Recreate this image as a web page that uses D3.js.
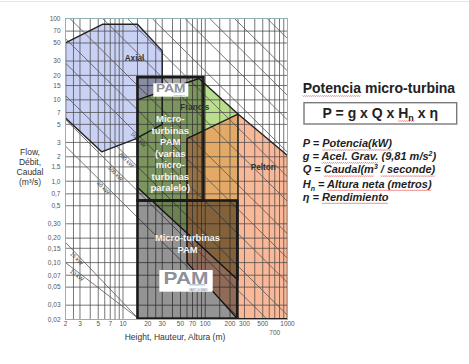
<!DOCTYPE html>
<html><head><meta charset="utf-8">
<script src="https://cdn.jsdelivr.net/npm/d3@7"></script>
<style>
body{margin:0;background:#fff}
svg{display:block}
text{font-family:"Liberation Sans",Arial,sans-serif}
</style>
</head><body>
<svg id="c" width="469" height="364"></svg>
<script>
// ---------- data ----------
const xTicks=[2,3,5,7,10,20,30,50,70,100,200,300,500,700,1000];
const xTickLabels=["2","3","5","7","10","20","30","50","70","100","200","300","500","700","1000"];
const yTicks=[0.02,0.03,0.05,0.07,0.1,0.15,0.2,0.3,0.5,0.7,1,1.5,2,3,5,7,10,15,20,30,50,70,100];
const yTickLabels=["0,02","0,03","0,05","0,07","0,10","0,15","0,20","0,30","0,5","0,7","1,0","1,5","2","3","5","7","10","15","20","30","50","70","100"];
const xGrid=[2,2.5,3,4,5,6,7,8,9,10,15,20,25,30,40,50,60,70,80,90,100,150,200,250,300,400,500,600,700,800,900,1000];
const yGrid=yTicks;
// regions: [Height m, Flow m3/s]
const axial=[[2,50],[5.7,85],[15,85],[30,40],[30,5],[14,3.3],[5.5,2.3],[2,6]];
const francis=[[15,10],[84,18.3],[250,6.7],[250,0.061],[15,0.84]];
const pelton=[[60,3.33],[250,6.7],[1000,2.07],[1000,0.0205],[245,0.0205],[60,0.1]];
const pamUpper=[[15,0.58],[95,19]];
const pamLower=[[15,0.0205],[245,0.58]];
// power lines: constant Q*H
const powerK=[5.4,11.4,22.6,56.6,113,226,566,1133,2265,5663,11325,22650,56630];
const powerLabels=[{k:5.4,h:6.1,t:"40 kW"},{k:11.4,h:8.6,t:"100 kW"},{k:22.6,h:11.6,t:"200 kW"},{k:56.6,h:16.4,t:"500 kW"}];
const lowLines=[{p:[[2,0.177],[15,0.021]],h:2.9,t:"15 kW"},{p:[[2,0.1],[15,0.021]],h:2.9,t:"10 kW"}];

// ---------- drawing ----------
const svg=d3.select("#c");
const x=d3.scaleLog().domain([2,1000]).range([65.5,287.5]);
const y=d3.scaleLog().domain([0.02,100]).range([319.5,18.5]);
const line=d3.line().x(d=>x(d[0])).y(d=>y(d[1]));
const poly=p=>line(p)+"Z";

svg.append("line").attr("x1",0).attr("x2",469).attr("y1",1.5).attr("y2",1.5).attr("stroke","#e4e4e4");

const defs=svg.append("defs");
defs.append("clipPath").attr("id","plotclip").append("rect")
  .attr("x",x(2)).attr("y",y(100)).attr("width",x(1000)-x(2)).attr("height",y(0.02)-y(100));
defs.append("clipPath").attr("id","fclip").append("path").attr("d",poly(francis));

const g=svg.append("g").attr("clip-path","url(#plotclip)");
g.append("path").attr("d",poly(axial)).attr("fill","#c9d1f4");
g.append("path").attr("d",poly(francis)).attr("fill","#b9de8c");
g.append("path").attr("d",poly(pelton)).attr("fill","#f9b898");
g.append("path").attr("d",poly(pelton)).attr("fill","#e2aa66").attr("clip-path","url(#fclip)");

// grid
g.selectAll(".vg").data(xGrid).join("line")
  .attr("x1",d=>x(d)).attr("x2",d=>x(d)).attr("y1",y(100)).attr("y2",y(0.02))
  .attr("stroke","#4a4a4a").attr("stroke-width",0.75);
g.selectAll(".hg").data(yGrid).join("line")
  .attr("y1",d=>y(d)).attr("y2",d=>y(d)).attr("x1",x(2)).attr("x2",x(1000))
  .attr("stroke","#4a4a4a").attr("stroke-width",0.75);

// power lines
const segK=k=>{const h0=Math.max(2,k/100),h1=Math.min(1000,k/0.02);return [[h0,k/h0],[h1,k/h1]];};
g.selectAll(".pl").data(powerK).join("path").attr("d",k=>line(segK(k)))
  .attr("fill","none").attr("stroke","#555").attr("stroke-width",0.8);
g.selectAll(".ll").data(lowLines).join("path").attr("d",d=>line(d.p))
  .attr("fill","none").attr("stroke","#555").attr("stroke-width",0.8);
const ang=Math.atan((y(1)-y(10))/(x(10)-x(1)))*180/Math.PI;
g.selectAll(".plab").data(powerLabels).join("text")
  .attr("transform",d=>`translate(${x(d.h)},${y(d.k/d.h)}) rotate(${ang})`)
  .attr("dy",5).attr("text-anchor","middle").attr("font-size",5.5).attr("fill","#444").text(d=>d.t);
lowLines.forEach(d=>{
  const [a,b]=d.p;const px=x(a[0]),py=y(a[1]),qx=x(b[0]),qy=y(b[1]);
  const an=Math.atan2(qy-py,qx-px)*180/Math.PI;
  const t=Math.log(d.h/a[0])/Math.log(b[0]/a[0]);
  g.append("text").attr("transform",`translate(${px+(qx-px)*t},${py+(qy-py)*t}) rotate(${an})`)
   .attr("dy",5).attr("text-anchor","middle").attr("font-size",5.5).attr("fill","#444").text(d.t);
});

// outlines
[axial,francis,pelton].forEach(p=>g.append("path").attr("d",poly(p)).attr("fill","none")
  .attr("stroke","#222").attr("stroke-width",1.4).attr("stroke-linejoin","round"));

// PAM boxes
const box=(b,op)=>g.append("rect").attr("x",x(b[0][0])).attr("y",y(b[1][1]))
  .attr("width",x(b[1][0])-x(b[0][0])).attr("height",y(b[0][1])-y(b[1][1]))
  .attr("fill","#000").attr("fill-opacity",op).attr("stroke","#1a1a1a").attr("stroke-width",2.6);
box(pamUpper,0.33);
box(pamLower,0.42);

// frame
svg.append("rect").attr("x",x(2)).attr("y",y(100)).attr("width",x(1000)-x(2)).attr("height",y(0.02)-y(100))
  .attr("fill","none").attr("stroke","#8fb3b3").attr("stroke-width",1);

// region labels
const lab=(t,cx,cy,fs,col)=>svg.append("text").attr("x",cx).attr("y",cy).attr("text-anchor","middle")
  .attr("dy","0.35em").attr("font-size",fs).attr("font-weight","bold").attr("fill",col).text(t);
lab("Axial",134.5,58.5,8.2,"#333");
lab("Francis",194.7,107.5,8.2,"#333");
lab("Pelton",263.3,167.5,8.2,"#333");
["Micro-","turbinas","PAM","(varias","micro-","turbinas","paralelo)"].forEach((t,i)=>lab(t,170.3,119+i*11.5,9.5,"#f4f4f4"));
lab("Micro-turbinas",187.5,237.5,9.4,"#f4f4f4");
lab("PAM",187.5,249.5,9.4,"#f4f4f4");

// logos
function logo(x0,y0,w,h,fs){
  const lg=svg.append("g");
  lg.append("rect").attr("x",x0).attr("y",y0).attr("width",w).attr("height",h).attr("fill","#fff");
  lg.append("text").attr("x",x0+w*0.08).attr("y",y0+h*0.64).attr("font-size",fs).attr("font-weight","bold")
    .attr("fill","#8d8f99").attr("textLength",w*0.84).attr("lengthAdjust","spacingAndGlyphs").text("PAM");
  lg.append("rect").attr("x",x0+w*0.56).attr("y",y0+h*0.66).attr("width",w*0.3).attr("height",h*0.05).attr("fill","#9bb6d6");
  lg.append("text").attr("x",x0+w*0.9).attr("y",y0+h*0.95).attr("text-anchor","end").attr("font-size",h*0.12)
    .attr("fill","#777").text("SAINT-GOBAIN");
}
logo(153.3,83.3,35,13.4,10.5);
logo(159.3,270,53.4,21.7,16.5);

// axes labels
svg.append("g").selectAll("text").data(yTicks).join("text")
  .attr("x",60.5).attr("y",d=>y(d)).attr("dy","0.35em").attr("text-anchor","end")
  .attr("font-size",6.5).attr("fill","#555").text((d,i)=>yTickLabels[i]);
svg.append("g").selectAll("text").data(xTicks).join("text")
  .attr("x",d=>x(d)).attr("y",(d,i)=>xTickLabels[i]==="700"?335:326.3).attr("text-anchor","middle")
  .attr("font-size",6.5).attr("fill","#555").text((d,i)=>xTickLabels[i]);
["Flow,","Débit,","Caudal","(m³/s)"].forEach((t,i)=>svg.append("text").attr("x",30).attr("y",154.8+i*9.9)
  .attr("text-anchor","middle").attr("font-size",8.5).attr("fill","#333").text(t));
svg.append("text").attr("x",175).attr("y",340.3).attr("text-anchor","middle").attr("font-size",8.5)
  .attr("fill","#333").text("Height, Hauteur, Altura (m)");

// right panel
function squiggleChars(t,start,len){
  try{
    const n=t.node();
    const p0=n.getStartPositionOfChar(start), p1=n.getEndPositionOfChar(start+len-1);
    const yy=p0.y+2.2;let d=`M${p0.x},${yy}`;
    for(let xx=p0.x;xx<p1.x-1;xx+=2){d+=` l1,1 l1,-1`;}
    svg.append("path").attr("d",d).attr("fill","none").attr("stroke","#e03a3a").attr("stroke-width",0.6);
  }catch(e){}
}
const title=svg.append("text").attr("x",302.7).attr("y",93.3).attr("font-size",14).attr("font-weight","bold").attr("fill","#222")
  .text("Potencia micro-turbina");
squiggleChars(title,0,8);

svg.append("rect").attr("x",304).attr("y",102.7).attr("width",152.7).attr("height",21.3)
  .attr("fill","#fff").attr("stroke","#7a7a7a").attr("stroke-width",1.4);
const f=svg.append("text").attr("x",380.3).attr("y",118.3).attr("text-anchor","middle").attr("font-size",14)
  .attr("font-weight","bold").attr("fill","#222");
f.append("tspan").text("P = g x Q x H");
f.append("tspan").attr("dy",3).attr("font-size",9).text("n");
f.append("tspan").attr("dy",-3).text(" x η");
squiggleChars(f,12,2);

// list: kind 0 normal, 1 squiggled, 2 superscript, 3 subscript
const items=[
  [["P = ",0],["Potencia(kW)",1]],
  [["g = ",0],["Acel. Grav.",1],[" (9,81 m/s",0],["2",2],[")",0]],
  [["Q = ",0],["Caudal(m",1],["3",2],[" / seconde)",1]],
  [["H",0],["n",3],[" = ",0],["Altura neta (metros)",1]],
  [["η = ",0],["Rendimiento",1]]
];
const base=[147.3,160.2,173.4,187.6,200.6];
items.forEach((parts,i)=>{
  const t=svg.append("text").attr("x",302.7).attr("y",base[i]).attr("font-size",11).attr("font-weight","bold")
    .attr("font-style","italic").attr("fill","#1e1e1e");
  const sq=[];let idx=0,prev=0;
  parts.forEach(([s,k])=>{
    const ts=t.append("tspan").text(s);
    if(k===2){ts.attr("font-size",7).attr("dy",-4);}
    else if(k===3){ts.attr("font-size",7).attr("dy",3);}
    else if(prev===2){ts.attr("dy",4);}
    else if(prev===3){ts.attr("dy",-3);}
    if(k===1){const lead=s.length-s.trimStart().length;sq.push([idx+lead,s.trim().length]);}
    idx+=s.length;prev=k;
  });
  sq.forEach(([a,l])=>squiggleChars(t,a,l));
});
</script>
</body></html>
